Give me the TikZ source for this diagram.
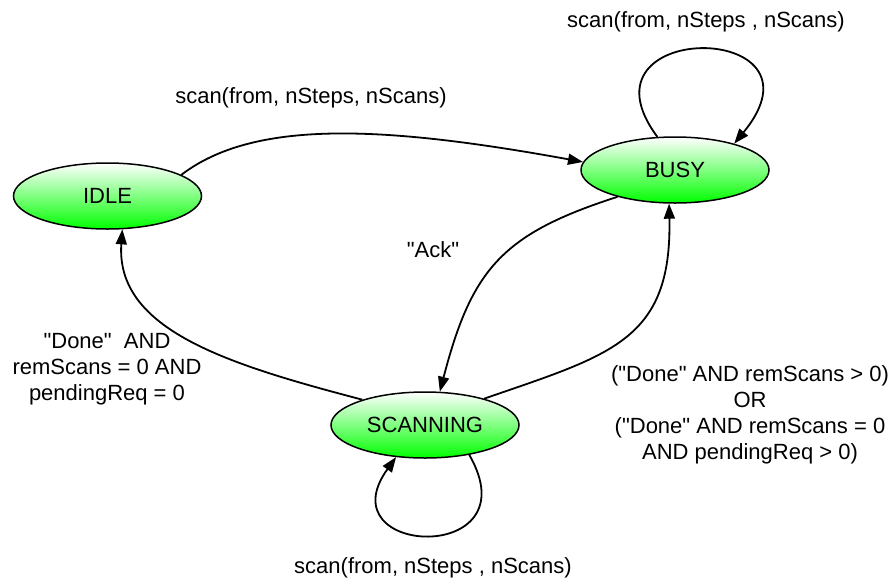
\documentclass[tikz,border=0pt]{standalone}
\usepackage{fontspec}
\setmainfont{Liberation Sans}
\usepackage{tikz}
\usetikzlibrary{arrows.meta,shapes.geometric}
\definecolor{stategreen}{HTML}{00FF00}
\newcommand{\q}{\textquotedbl}
\tikzset{state/.style={ellipse,draw,line width=0.75pt,minimum width=94pt,minimum height=33pt,inner sep=0pt,top color=white,bottom color=stategreen},
trans/.style={-{Triangle[length=7.5pt,width=5.5pt]},line width=0.9pt},
lbl/.style={align=center,font=\fontsize{11}{13}\selectfont}}

\begin{document}
\begin{tikzpicture}[x=0.5pt,y=-0.5pt,font=\fontsize{11}{13}\selectfont]
\useasboundingbox (0,0) rectangle (894,579);
\node[state] (idle) at (107.5,196) {IDLE};
\node[state] (busy) at (675,170) {BUSY};
\node[state] (scanning) at (425,425) {SCANNING};
\draw[trans] (idle.16) .. controls +(72,-55) and +(-203,-37) .. (busy.175);
\draw[trans] (busy.118) .. controls +(-88,-118) and +(102,-124) .. (busy.24);
\draw[trans] (busy.205) .. controls +(-115,37) and +(32,-123) .. (scanning.66);
\draw[trans] (scanning.24) .. controls +(127,-44) and +(3,137) .. (busy.260);
\draw[trans] (scanning.158) .. controls +(-133,-35) and +(-7,101) .. (idle.294);
\draw[trans] (scanning.326) .. controls +(64,111) and +(-72,100) .. (scanning.228);
\node[lbl] (lscan) at (311,98) {scan(from, nSteps, nScans)};
\node[lbl] (lbusy) at (706,22) {scan(from, nSteps , nScans)};
\node[lbl] (lack) at (433,250) {\q Ack\q};
\node[lbl] (ldone) at (107,369) {\q Done\q~~AND\\remScans = 0 AND\\pendingReq = 0};
\node[lbl] (lmore) at (750,415) {(\q Done\q{} AND remScans > 0)\\OR\\(\q Done\q{} AND remScans = 0\\AND pendingReq > 0)};
\node[lbl] (lscanning) at (433,568) {scan(from, nSteps , nScans)};
\end{tikzpicture}
\end{document}
